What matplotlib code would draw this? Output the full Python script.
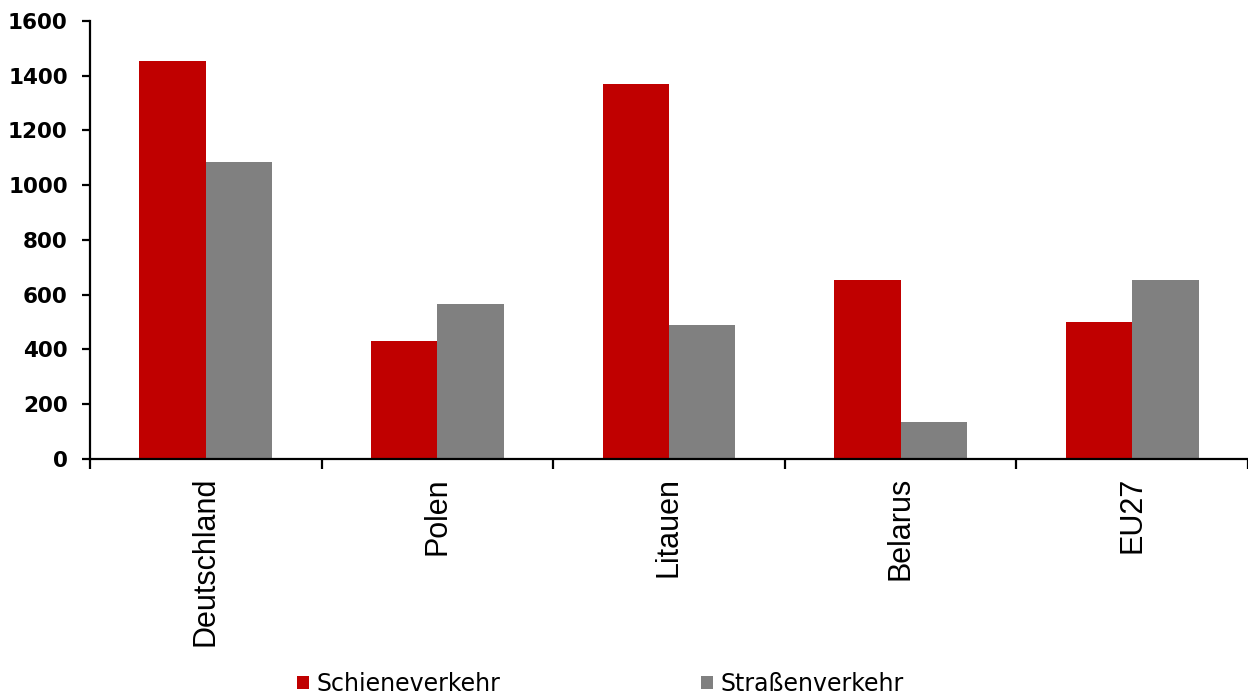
import numpy as np
import matplotlib
matplotlib.use('Agg')
import matplotlib.pyplot as plt
from matplotlib.ticker import MultipleLocator, FixedLocator

categories = ['Deutschland', 'Polen', 'Litauen', 'Belarus', 'EU27']
schiene = [1455, 432, 1369, 655, 502]
strasse = [1084, 567, 491, 135, 652]

RED = '#C00000'
GRAY = '#808080'

fig = plt.figure(figsize=(12.48, 6.97), dpi=100)
ax = fig.add_axes([0.0721, 0.3415, 0.9279, 0.6284])

x = np.arange(len(categories))
w = 0.287
ax.bar(x - w / 2, schiene, w, color=RED, label='Schieneverkehr')
ax.bar(x + w / 2, strasse, w, color=GRAY, label='Straßenverkehr')

ax.set_xlim(-0.5, len(categories) - 0.5)
ax.set_ylim(0, 1600)
ax.yaxis.set_major_locator(MultipleLocator(200))

for s in ['top', 'right']:
    ax.spines[s].set_visible(False)
for s in ['left', 'bottom']:
    ax.spines[s].set_linewidth(1.6)
    ax.spines[s].set_color('black')

ax.set_xticks(x)
ax.set_xticklabels(categories, rotation=90, fontsize=22,
                   family=['Liberation Sans', 'DejaVu Sans'])
ax.tick_params(axis='x', which='major', length=0, pad=13)
ax.xaxis.set_minor_locator(FixedLocator(np.arange(len(categories) + 1) - 0.5))
ax.tick_params(axis='x', which='minor', length=7, width=1.6, direction='out')

ax.tick_params(axis='y', length=6, width=1.6, direction='out', pad=10)
for lab in ax.get_yticklabels():
    lab.set_fontsize(15.5)
    lab.set_fontweight('bold')
    lab.set_family('DejaVu Sans')

fig.legend(loc='center', bbox_to_anchor=(0.481, 0.019), ncol=2, frameon=False,
           fontsize=17, handlelength=0.51, handleheight=0.51, handletextpad=0.3,
           columnspacing=8.5, borderpad=0, borderaxespad=0)

fig.savefig('out.png', dpi=100)
